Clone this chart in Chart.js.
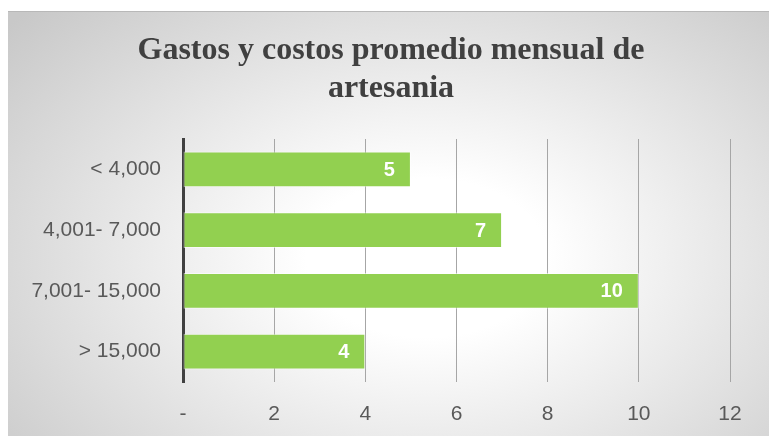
<!DOCTYPE html>
<html>
<head>
<meta charset="utf-8">
<script src="https://cdn.jsdelivr.net/npm/chart.js@4"></script>
<style>
    html, body { margin: 0; padding: 0; background: #ffffff; }
    #frame {
        position: absolute; left: 8px; top: 11px; width: 761px; height: 425px;
        background: radial-gradient(ellipse 72% 85% at 55% 58%, #ffffff 0%, #ffffff 22%, #c8c8c8 100%);
        border-top: 1px solid #b8b8b8;
        box-sizing: border-box;
    }
    #wrap { position: absolute; left: 0; top: 0; width: 770px; height: 436px; }
</style>
</head>
<body>
<div id="frame"></div>
<div id="wrap"><canvas id="chart" width="770" height="436"></canvas></div>
<script>
(function() {
    const TITLE = ["Gastos y costos promedio mensual de", "artesania"];
    const categories = ["< 4,000", "4,001- 7,000", "7,001- 15,000", "> 15,000"];
    const values = [5, 7, 10, 4];
    const tickLabels = { 0: "-", 2: "2", 4: "4", 6: "6", 8: "8", 10: "10", 12: "12" };

    const BAR_COLOR = "#92d050";
    const AXIS_FONT = "'Liberation Sans', Arial, sans-serif";

    // title drawn centred on the whole frame, not the chart area
    const chartTitle = {
        id: "chartTitle",
        afterDraw(chart) {
            const ctx = chart.ctx;
            ctx.save();
            ctx.fillStyle = "#404040";
            ctx.font = "bold 32px 'Liberation Serif', 'Times New Roman', serif";
            ctx.textAlign = "center";
            ctx.textBaseline = "middle";
            TITLE.forEach((line, i) => ctx.fillText(line, 391, 51 + i * 38));
            ctx.restore();
        }
    };

    // white value labels at the end of each bar
    const valueLabels = {
        id: "valueLabels",
        afterDatasetsDraw(chart) {
            const ctx = chart.ctx;
            const meta = chart.getDatasetMeta(0);
            ctx.save();
            ctx.fillStyle = "#ffffff";
            ctx.font = "bold 20px " + AXIS_FONT;
            ctx.textAlign = "right";
            ctx.textBaseline = "middle";
            meta.data.forEach((bar, i) => {
                ctx.fillText(String(values[i]), bar.x - 16, bar.y + 1);
            });
            ctx.restore();
        }
    };

    const ctx = document.getElementById("chart").getContext("2d");
    new Chart(ctx, {
        type: "bar",
        data: {
            labels: categories,
            datasets: [{
                data: values,
                backgroundColor: BAR_COLOR,
                borderColor: "rgba(255,255,255,0.55)",
                borderWidth: 1,
                borderSkipped: false,
                categoryPercentage: 1,
                barPercentage: 0.59
            }]
        },
        options: {
            indexAxis: "y",
            responsive: false,
            animation: false,
            layout: { padding: { left: 0, right: 40, top: 139, bottom: 0 } },
            plugins: {
                legend: { display: false },
                tooltip: { enabled: false },
                title: { display: false }
            },
            scales: {
                x: {
                    min: 0,
                    max: 12,
                    grid: { color: "#a6a6a6", lineWidth: 1, drawTicks: false },
                    border: { display: false },
                    ticks: {
                        stepSize: 2,
                        padding: 20,
                        color: "#595959",
                        font: { family: AXIS_FONT, size: 21 },
                        callback: (v) => tickLabels[v] !== undefined ? tickLabels[v] : ""
                    },
                    afterFit(scale) { scale.height = 54; }
                },
                y: {
                    grid: { display: false, drawTicks: false },
                    border: { display: true, color: "#404040", width: 3 },
                    ticks: {
                        padding: 22,
                        color: "#595959",
                        font: { family: AXIS_FONT, size: 21 }
                    },
                    afterFit(scale) { scale.width = 183; }
                }
            }
        },
        plugins: [valueLabels, chartTitle]
    });
})();
</script>
</body>
</html>
